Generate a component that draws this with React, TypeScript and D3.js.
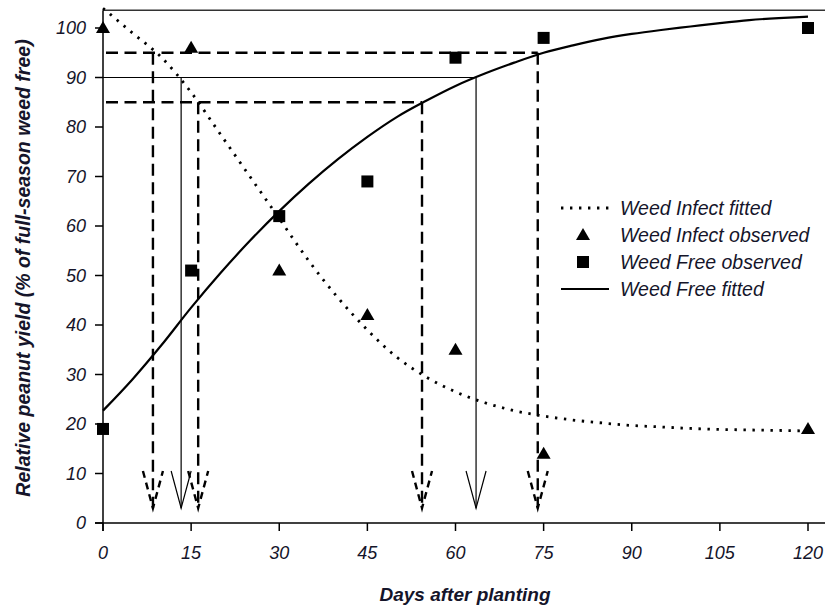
import React from 'react';
import * as d3 from 'd3';

const fitDays = [0, 5, 10, 15, 20, 25, 30, 35, 40, 45, 50, 55, 60, 65, 70, 75, 80, 85, 90, 95, 100, 105, 110, 115, 120];
const infectFitted = [104, 99, 94, 87, 78.5, 70, 61.5, 53, 45.5, 39, 33.5, 29.5, 26.5, 24.3, 22.7, 21.6, 20.8, 20.2, 19.7, 19.4, 19.1, 18.9, 18.8, 18.7, 18.6];
const freeFitted = [22.7, 29, 36, 43.5, 50.5, 57, 63, 68.5, 73.5, 78, 82, 85.3, 88.3, 90.8, 93, 95, 96.5, 97.8, 98.8, 99.6, 100.3, 101, 101.6, 102, 102.3];

const obsDays = [0, 15, 30, 45, 60, 75, 120];
const infectObserved = [100, 96, 51, 42, 35, 14, 19];
const freeObserved = [19, 51, 62, 69, 94, 98, 100];

const xTicks = [0, 15, 30, 45, 60, 75, 90, 105, 120];
const yTicks = [0, 10, 20, 30, 40, 50, 60, 70, 80, 90, 100];

const thresholds = [95, 90, 85];
const thresholdDashed = [true, false, true];
const infectDays = [8.5, 13.3, 16.2];
const freeDays = [74, 63.5, 54.3];

const legendLabels = ['Weed Infect fitted', 'Weed Infect observed', 'Weed Free observed', 'Weed Free fitted'];

const FONT = '"Liberation Sans", Arial, sans-serif';
const TXT = '#15152a';

export default function App() {
  const x = d3.scaleLinear().domain([0, 120]).range([103, 808]);
  const y = d3.scaleLinear().domain([0, 100]).range([523, 28]);

  const line = d3.line<[number, number]>()
    .x(d => x(d[0]))
    .y(d => y(d[1]))
    .curve(d3.curveMonotoneX);

  const infectPath = line(fitDays.map((d, i) => [d, infectFitted[i]] as [number, number])) || '';
  const freePath = line(fitDays.map((d, i) => [d, freeFitted[i]] as [number, number])) || '';

  const dash = '12 6.5';
  const tipY = y(3);
  const wingY = y(10.5);

  const arrow = (day: number, dashed: boolean, key: string) => {
    const cx = x(day);
    const sw = dashed ? 2.4 : 1.2;
    return (
      <path
        key={key}
        d={`M${cx - 10},${wingY} L${cx},${tipY} L${cx + 10},${wingY}`}
        fill="none"
        stroke="#000"
        strokeWidth={sw}
        strokeDasharray={dashed ? '7 5' : undefined}
      />
    );
  };

  const tri = (cx: number, cy: number) => `M${cx},${cy - 7} L${cx + 7},${cy + 5} L${cx - 7},${cy + 5} Z`;

  return (
    <svg width={825} height={606} style={{ position: 'absolute', left: 0, top: 0, background: '#fff' }}>
      {/* frame */}
      <line x1={103} x2={825} y1={y(103.6)} y2={y(103.6)} stroke="#333" strokeWidth={1.5} />
      <line x1={103} x2={103} y1={y(103.6)} y2={531} stroke="#000" strokeWidth={1.5} />
      <line x1={95} x2={825} y1={y(0)} y2={y(0)} stroke="#000" strokeWidth={1.5} />

      {/* y ticks */}
      {yTicks.map(t => (
        <g key={'yt' + t}>
          <line x1={95} x2={103} y1={y(t)} y2={y(t)} stroke="#000" strokeWidth={1.5} />
          <text x={86} y={y(t)} dy="0.35em" textAnchor="end" fontFamily={FONT} fontStyle="italic" fontSize={18} fill={TXT}>{t}</text>
        </g>
      ))}
      {/* x ticks */}
      {xTicks.map(t => (
        <g key={'xt' + t}>
          <line x1={x(t)} x2={x(t)} y1={523} y2={531} stroke="#000" strokeWidth={1.5} />
          <text x={x(t)} y={559} textAnchor="middle" fontFamily={FONT} fontStyle="italic" fontSize={18} fill={TXT}>{t}</text>
        </g>
      ))}

      {/* axis titles */}
      <text x={465} y={601} textAnchor="middle" fontFamily={FONT} fontStyle="italic" fontWeight="bold" fontSize={19} fill={TXT}>Days after planting</text>
      <text transform={`translate(30,268) rotate(-90)`} textAnchor="middle" fontFamily={FONT} fontStyle="italic" fontWeight="bold" fontSize={19.5} fill={TXT}>Relative peanut yield (% of full-season weed free)</text>

      {/* threshold horizontal lines */}
      {thresholds.map((t, i) => (
        <line key={'h' + t}
          x1={thresholdDashed[i] ? x(0) + 3 : 95}
          x2={x(freeDays[i])}
          y1={y(t)} y2={y(t)}
          stroke="#000"
          strokeWidth={thresholdDashed[i] ? 2.4 : 1.2}
          strokeDasharray={thresholdDashed[i] ? dash : undefined} />
      ))}
      {/* vertical drop lines */}
      {thresholds.map((t, i) => (
        <g key={'v' + t}>
          <line x1={x(infectDays[i])} x2={x(infectDays[i])} y1={y(t)} y2={tipY}
            stroke="#000" strokeWidth={thresholdDashed[i] ? 2.4 : 1.2}
            strokeDasharray={thresholdDashed[i] ? dash : undefined} />
          <line x1={x(freeDays[i])} x2={x(freeDays[i])} y1={y(t)} y2={tipY}
            stroke="#000" strokeWidth={thresholdDashed[i] ? 2.4 : 1.2}
            strokeDasharray={thresholdDashed[i] ? dash : undefined} />
          {arrow(infectDays[i], thresholdDashed[i], 'ai' + t)}
          {arrow(freeDays[i], thresholdDashed[i], 'af' + t)}
        </g>
      ))}

      {/* fitted curves */}
      <path d={infectPath} fill="none" stroke="#000" strokeWidth={2.8} strokeDasharray="2.4 6.6" />
      <path d={freePath} fill="none" stroke="#000" strokeWidth={2.2} />

      {/* observed */}
      {obsDays.map((d, i) => (
        <path key={'ti' + d} d={tri(x(d), y(infectObserved[i]))} fill="#000" />
      ))}
      {obsDays.map((d, i) => (
        <rect key={'sq' + d} x={x(d) - 6} y={y(freeObserved[i]) - 6} width={12} height={12} fill="#000" />
      ))}

      {/* legend */}
      <g fontFamily={FONT} fontStyle="italic" fontSize={19.5} fill={TXT}>
        <line x1={561} x2={609} y1={208} y2={208} stroke="#000" strokeWidth={2.8} strokeDasharray="2.4 6.6" />
        <path d={tri(583, 235)} fill="#000" />
        <rect x={577} y={256} width={12} height={12} fill="#000" />
        <line x1={561} x2={609} y1={289} y2={289} stroke="#000" strokeWidth={2.2} />
        {legendLabels.map((l, i) => (
          <text key={l} x={620} y={[208, 235, 262, 289][i]} dy="0.35em">{l}</text>
        ))}
      </g>
    </svg>
  );
}
